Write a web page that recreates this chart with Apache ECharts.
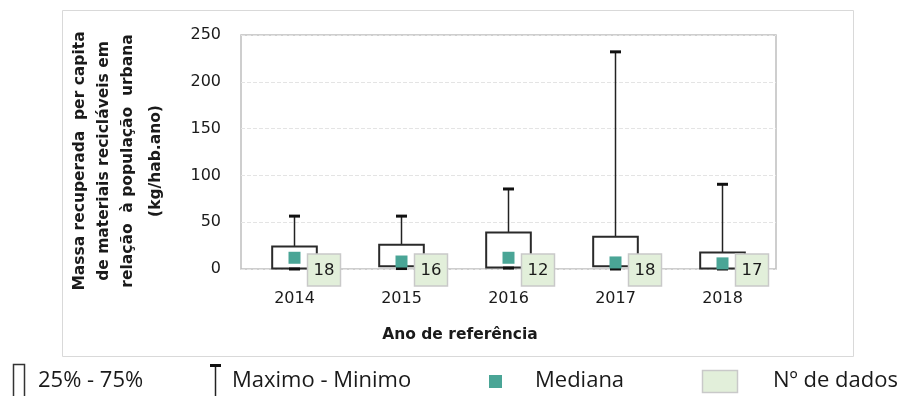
<!DOCTYPE html>
<html>
<head>
<meta charset="utf-8">
<script src="https://cdn.jsdelivr.net/npm/echarts@6/dist/echarts.min.js"></script>
<style>
  html, body { margin: 0; padding: 0; background: #fff; }
  #chart { width: 901px; height: 396px; }
</style>
</head>
<body>
<div id="chart"></div>
<script>
// Massa recuperada per capita (kg/hab.ano) — distribuição anual
const categories = ['2014', '2015', '2016', '2017', '2018'];
const minimo  = [0, 0.5, 1, 0, 0];
const q1      = [0.5, 3, 1.5, 3, 0.5];
const q3      = [24, 26, 39, 34.5, 17.5];
const maximo  = [56.5, 56.5, 85.5, 232, 90.5];
const mediana = [12, 8, 12, 7, 6];
const nDados  = [18, 16, 12, 18, 17];
const yTicks  = { min: 0, max: 250, interval: 50 };

const FONT = 'DejaVu Sans';
const LEG_FONT = 'Open Sans';
const TEXT = '#1a1a1a';

const boxData = categories.map((c, i) => [i, minimo[i], q1[i], q3[i], maximo[i]]);
const medData = categories.map((c, i) => [i, mediana[i]]);
const countData = categories.map((c, i) => [i, 0, nDados[i]]);

const chart = echarts.init(document.getElementById('chart'), null, { renderer: 'canvas' });

const titleLines = [
  'Massa recuperada  per capita',
  'de materiais recicláveis em',
  'relação  à população  urbana',
  '(kg/hab.ano)'
];
const titleX = [80, 104, 128, 156];

const graphics = [
  // outer frame
  { type: 'rect', z: -10, shape: { x: 62.5, y: 10.5, width: 791, height: 346 },
    style: { fill: '#fff', stroke: '#d9d9d9', lineWidth: 1 } },
  // axis title (x)
  { type: 'text', x: 460, y: 335,
    style: { text: 'Ano de referência', font: 'bold 15.5px "' + FONT + '"', fill: TEXT,
             align: 'center', verticalAlign: 'middle' } },
  // legend: 25% - 75%
  { type: 'rect', shape: { x: 13.5, y: 364.5, width: 11, height: 40 },
    style: { fill: 'none', stroke: '#333', lineWidth: 1.5 } },
  { type: 'text', x: 38, y: 381,
    style: { text: '25% - 75%', font: '22px "' + LEG_FONT + '"', fill: TEXT, verticalAlign: 'middle' } },
  // legend: Maximo - Minimo
  { type: 'line', shape: { x1: 215.5, y1: 365, x2: 215.5, y2: 400 },
    style: { stroke: '#222', lineWidth: 1.5 } },
  { type: 'line', shape: { x1: 210, y1: 365.5, x2: 221, y2: 365.5 },
    style: { stroke: '#111', lineWidth: 3 } },
  { type: 'text', x: 232, y: 381,
    style: { text: 'Maximo - Minimo', font: '22px "' + LEG_FONT + '"', fill: TEXT, verticalAlign: 'middle' } },
  // legend: Mediana
  { type: 'rect', shape: { x: 489, y: 375, width: 13, height: 13 },
    style: { fill: '#4aa596' } },
  { type: 'text', x: 535, y: 381,
    style: { text: 'Mediana', font: '22px "' + LEG_FONT + '"', fill: TEXT, verticalAlign: 'middle' } },
  // legend: Nº de dados
  { type: 'rect', shape: { x: 702.5, y: 370.5, width: 35, height: 22 },
    style: { fill: '#e2efda', stroke: '#c9c9c9', lineWidth: 1.5 } },
  { type: 'text', x: 773, y: 381,
    style: { text: 'Nº de dados', font: '22px "' + LEG_FONT + '"', fill: TEXT, verticalAlign: 'middle' } }
];
titleLines.forEach((t, i) => {
  graphics.push({
    type: 'text', x: titleX[i], y: 161, rotation: Math.PI / 2,
    style: { text: t, font: 'bold 15.5px "' + FONT + '"', fill: TEXT,
             align: 'center', verticalAlign: 'middle' }
  });
});

const option = {
  animation: false,
  backgroundColor: '#fff',
  grid: {
    left: 241, top: 35, right: 125, bottom: 127,
    show: true, borderColor: '#bfbfbf', borderWidth: 1.5, backgroundColor: 'transparent'
  },
  xAxis: {
    type: 'category',
    data: categories,
    axisLine: { show: false },
    axisTick: { show: false },
    axisLabel: { fontFamily: FONT, fontSize: 16, color: TEXT, margin: 22 },
    splitLine: { show: false }
  },
  yAxis: {
    type: 'value',
    min: yTicks.min, max: yTicks.max, interval: yTicks.interval,
    axisLine: { show: false },
    axisTick: { show: false },
    axisLabel: { fontFamily: FONT, fontSize: 16, color: TEXT, margin: 20 },
    splitLine: { lineStyle: { color: '#e4e4e4', width: 1, type: [4, 2] } }
  },
  graphic: graphics,
  series: [
    {
      // box (Q1–Q3) with whiskers to min and max
      type: 'custom',
      z: 2,
      data: boxData,
      renderItem: function (params, api) {
        const i = api.value(0);
        const pMin = api.coord([i, api.value(1)]);
        const pQ1 = api.coord([i, api.value(2)]);
        const pQ3 = api.coord([i, api.value(3)]);
        const pMax = api.coord([i, api.value(4)]);
        const x = pQ1[0];
        const bw = api.size([1, 0])[0] * 0.417;
        const cap = 11;
        return {
          type: 'group',
          children: [
            { type: 'line', shape: { x1: x, y1: pQ3[1], x2: x, y2: pMax[1] },
              style: { stroke: '#222', lineWidth: 1.5 } },
            { type: 'line', shape: { x1: x, y1: pQ1[1], x2: x, y2: pMin[1] },
              style: { stroke: '#222', lineWidth: 1.5 } },
            { type: 'rect', shape: { x: x - bw / 2, y: pQ3[1], width: bw, height: pQ1[1] - pQ3[1] },
              style: { fill: '#fff', stroke: '#2a2a2a', lineWidth: 2 } },
            { type: 'line', shape: { x1: x - cap / 2, y1: pMax[1], x2: x + cap / 2, y2: pMax[1] },
              style: { stroke: '#111', lineWidth: 3 } },
            { type: 'line', shape: { x1: x - cap / 2, y1: pMin[1], x2: x + cap / 2, y2: pMin[1] },
              style: { stroke: '#111', lineWidth: 3 } }
          ]
        };
      }
    },
    {
      // median marker
      type: 'scatter',
      z: 3,
      data: medData,
      symbol: 'rect',
      symbolSize: 12,
      itemStyle: { color: '#4aa596', opacity: 1 }
    },
    {
      // number of observations, boxed beside each category
      type: 'custom',
      z: 4,
      data: countData,
      renderItem: function (params, api) {
        const p = api.coord([api.value(0), api.value(1)]);
        const cx = p[0] + 29.5, cy = p[1] + 1;
        return {
          type: 'group',
          children: [
            { type: 'rect', shape: { x: cx - 16.5, y: cy - 16, width: 33, height: 32 },
              style: { fill: '#e2efda', stroke: '#c9c9c9', lineWidth: 1.5 } },
            { type: 'text', x: cx, y: cy + 1,
              style: { text: String(api.value(2)), font: '16.5px "' + FONT + '"', fill: TEXT,
                       align: 'center', verticalAlign: 'middle' } }
          ]
        };
      }
    }
  ]
};

chart.setOption(option);
</script>
</body>
</html>
